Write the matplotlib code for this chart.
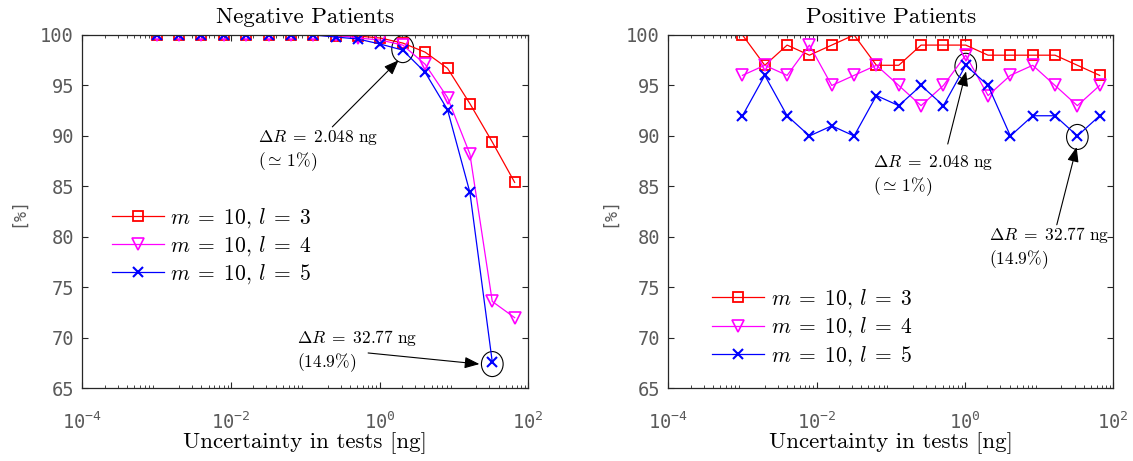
import matplotlib
matplotlib.use('Agg')
import matplotlib.pyplot as plt
from matplotlib.patches import Ellipse
from matplotlib.transforms import ScaledTranslation

plt.rcParams['mathtext.fontset'] = 'cm'

# uncertainty in tests [ng]
dr = [0.001, 0.002, 0.004, 0.008, 0.016, 0.032, 0.064, 0.128, 0.256,
      0.512, 1.024, 2.048, 4.096, 8.192, 16.384, 32.768, 65.536]

# negative patients [%]
neg_l3 = [100, 100, 100, 100, 100, 100, 100, 100, 99.9,
          99.9, 99.7, 99.2, 98.3, 96.7, 93.2, 89.4, 85.4]
neg_l4 = [100, 100, 100, 100, 100, 100, 100, 100, 100,
          99.7, 99.5, 99.0, 97.1, 93.8, 88.2, 73.6, 72.0]
neg_l5 = [100, 100, 100, 100, 100, 100, 100, 100, 99.8,
          99.6, 99.1, 98.5, 96.3, 92.6, 84.4, 67.6]

# positive patients [%]
pos_l3 = [100, 97, 99, 98, 99, 100, 97, 97, 99, 99, 99, 98, 98, 98, 98, 97, 96]
pos_l4 = [96, 97, 96, 99, 95, 96, 97, 95, 93, 95, 98, 94, 96, 97, 95, 93, 95]
pos_l5 = [92, 96, 92, 90, 91, 90, 94, 93, 95, 93, 97, 95, 90, 92, 92, 90, 92]

labels = [r'$m\;=\;10,\, l\;=\;3$', r'$m\;=\;10,\, l\;=\;4$', r'$m\;=\;10,\, l\;=\;5$']

tick_col = '#5a5a5a'
W, H = 1133, 461
fig = plt.figure(figsize=(W / 100, H / 100), dpi=100)
ax1 = fig.add_axes([82.3 / W, (H - 388.3) / H, 446 / W, 353.3 / H])
ax2 = fig.add_axes([668.3 / W, (H - 388.3) / H, 445 / W, 353.3 / H])


def draw(ax, y3, y4, y5):
    ax.plot(dr[:len(y3)], y3, '-s', color='#ff0000', lw=0.9, ms=6.5,
            mfc='none', mew=1.3, label=labels[0])
    ax.plot(dr[:len(y4)], y4, '-v', color='#ff00ff', lw=0.9, ms=9,
            mfc='none', mew=1.2, label=labels[1])
    ax.plot(dr[:len(y5)], y5, '-x', color='#0000ff', lw=0.9, ms=6.5,
            mew=1.5, label=labels[2])
    ax.set_xscale('log')
    ax.set_xlim(1e-4, 1e2)
    ax.set_ylim(65, 100)
    ax.set_yticks([65, 70, 75, 80, 85, 90, 95, 100])
    ax.set_xticks([1e-4, 1e-2, 1e0, 1e2])
    ax.tick_params(which='both', direction='in', top=True, right=True,
                   colors='#262626', labelcolor=tick_col)
    ax.tick_params(which='major', length=4)
    ax.tick_params(which='minor', length=2.2)
    ax.tick_params(axis='x', pad=17)
    ax.tick_params(axis='y', pad=6)
    for lab in ax.get_xticklabels() + ax.get_yticklabels():
        lab.set_fontfamily('DejaVu Sans Mono')
        lab.set_fontsize(13.5)
    for sp in ax.spines.values():
        sp.set_color('#262626')
        sp.set_linewidth(0.9)
    ax.set_xlabel('Uncertainty in tests [ng]', fontfamily='cmr10',
                  fontsize=16.5, va='center')
    ax.xaxis.set_label_coords(0.5, -0.155)
    ax.set_ylabel('[%]', fontfamily='DejaVu Sans Mono', fontsize=12,
                  color=tick_col, va='center')


def ring(ax, x, y, w, h):
    e = Ellipse((0, 0), w / 100, h / 100, fill=False, ec='k', lw=0.8,
                transform=fig.dpi_scale_trans + ScaledTranslation(x, y, ax.transData))
    ax.add_patch(e)


def arrow(ax, tail, head):
    ax.annotate('', xy=head, xytext=tail,
                arrowprops=dict(arrowstyle='-|>,head_length=0.9,head_width=0.35',
                                color='k', lw=0.8, shrinkA=0, shrinkB=0))


draw(ax1, neg_l3, neg_l4, neg_l5)
draw(ax2, pos_l3, pos_l4, pos_l5)

ax1.set_title('Negative Patients', fontfamily='cmr10', fontsize=16.5, pad=8.5)
ax2.set_title('Positive Patients', fontfamily='cmr10', fontsize=16.5, pad=8.5)
ax1.yaxis.set_label_coords(-0.1435, 0.5)
ax2.yaxis.set_label_coords(-0.1326, 0.5)

txt1 = r'$\Delta R\;=\;2.048\ \mathrm{ng}$' + '\n' + r'$(\simeq\, 1\%)$'
txt2 = r'$\Delta R\;=\;32.77\ \mathrm{ng}$' + '\n' + r'$(14.9\%)$'

# negative panel notes
ring(ax1, 2.048, 98.6, 22, 27)
arrow(ax1, (0.231, 90.9), (1.8, 97.5))
ax1.text(0.0229, 88.6, txt1, fontsize=12.5, ha='left', va='center')
ring(ax1, 32.77, 67.4, 21.7, 25)
arrow(ax1, (0.70, 68.5), (22.0, 67.4))
ax1.text(0.0762, 68.73, txt2, fontsize=12.5, ha='left', va='center')

# positive panel notes
ring(ax2, 1.024, 96.9, 21.6, 26)
arrow(ax2, (0.586, 89.2), (1.035, 96.4))
ax2.text(0.0569, 86.1, txt1, fontsize=12.5, ha='left', va='center')
ring(ax2, 32.77, 89.9, 21.6, 25)
arrow(ax2, (17.3, 81.2), (32.0, 88.9))
ax2.text(2.14, 78.9, txt2, fontsize=12.5, ha='left', va='center')

for ax, xa, ya in [(ax1, 0.0666, 0.4025), (ax2, 0.0993, 0.1718)]:
    ax.legend(loc='center left', bbox_to_anchor=(xa, ya), frameon=False,
              fontsize=15.5, handlelength=2.4, handletextpad=0.3,
              labelspacing=0.2, borderpad=0, borderaxespad=0)

fig.savefig('out.png', dpi=100)
